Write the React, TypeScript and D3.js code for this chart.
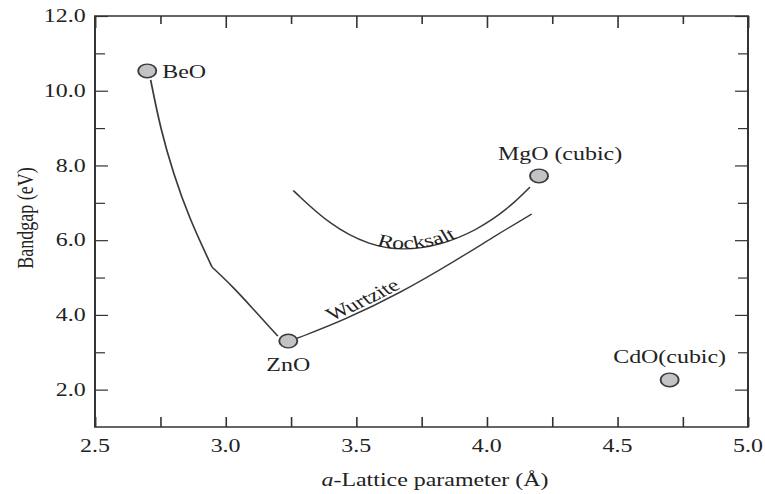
import { useEffect, useRef } from 'react';
import * as d3 from 'd3';

// the original figure is stretched horizontally, so draw in a narrower box and stretch it
const stretch = 1.33;
const outerW = 765;
const outerH = 494;
const innerW = outerW / stretch;

const xTicks = [2.5, 3.0, 3.5, 4.0, 4.5, 5.0];
const xMinorTicks = [2.75, 3.25, 3.75, 4.25, 4.75];
const yTicks = [2, 4, 6, 8, 10, 12];
const yMinorTicks = [3, 5, 7, 9, 11];

const compounds = ['BeO', 'ZnO', 'MgO (cubic)', 'CdO(cubic)'];
const latticeA = [2.70, 3.24, 4.20, 4.70];
const bandgap = [10.53, 3.30, 7.72, 2.26];

const wurtziteUpper: [number, number][] = [
    [2.713, 10.29], [2.75, 9.0], [2.80, 7.78], [2.86, 6.6], [2.948, 5.28],
];
const wurtziteLower: [number, number][] = [
    [2.948, 5.28], [3.03, 4.74], [3.10, 4.20], [3.20, 3.43],
];
const wurtziteRight: [number, number][] = [
    [3.272, 3.37], [3.45, 3.85], [3.67, 4.59], [3.88, 5.45], [4.04, 6.15], [4.172, 6.70],
];
const rocksalt: [number, number][] = [
    [3.259, 7.33], [3.40, 6.40], [3.55, 5.86], [3.68, 5.72], [3.82, 5.86],
    [3.96, 6.26], [4.08, 6.83], [4.165, 7.42],
];

const App = () => {
    const svgRef = useRef<SVGSVGElement>(null);
    const margins = { top: 16, right: outerW - 748, bottom: outerH - 427, left: 95 };

    useEffect(() => {
        const svg = d3.select(svgRef.current);
        svg.selectAll('*').remove();

        const left = margins.left / stretch;
        const right = (outerW - margins.right) / stretch;
        const top = margins.top;
        const bottom = outerH - margins.bottom;

        const xScale = d3.scaleLinear().domain([2.5, 5.0]).range([left, right]);
        const yScale = d3.scaleLinear().domain([1, 12]).range([bottom, top]);

        const ink = '#333';
        const font = "'Liberation Serif', 'Times New Roman', serif";

        // axes, ticks pointing inward
        const fmt = (d: any) => d3.format('.1f')(d);
        const ax = (g: any) => g.call((s: any) => s.select('.domain').remove());

        svg.append('g')
            .attr('transform', `translate(0,${bottom})`)
            .call(d3.axisBottom(xScale).tickValues([...xTicks, ...xMinorTicks]).tickSizeInner(-10).tickSizeOuter(0).tickFormat(() => ''))
            .call(ax);
        svg.append('g')
            .attr('transform', `translate(0,${top})`)
            .call(d3.axisTop(xScale).tickValues(xTicks).tickSizeInner(-12).tickSizeOuter(0).tickFormat(() => ''))
            .call(ax);
        svg.append('g')
            .attr('transform', `translate(0,${top})`)
            .call(d3.axisTop(xScale).tickValues(xMinorTicks).tickSizeInner(-8).tickSizeOuter(0).tickFormat(() => ''))
            .call(ax);
        svg.append('g')
            .attr('transform', `translate(${left},0)`)
            .call(d3.axisLeft(yScale).tickValues(yTicks).tickSizeInner(-13 / stretch).tickSizeOuter(0).tickFormat(() => ''))
            .call(ax);
        svg.append('g')
            .attr('transform', `translate(${left},0)`)
            .call(d3.axisLeft(yScale).tickValues(yMinorTicks).tickSizeInner(-10 / stretch).tickSizeOuter(0).tickFormat(() => ''))
            .call(ax);
        svg.append('g')
            .attr('transform', `translate(${right},0)`)
            .call(d3.axisRight(yScale).tickValues(yTicks).tickSizeInner(-13 / stretch).tickSizeOuter(0).tickFormat(() => ''))
            .call(ax);
        svg.append('g')
            .attr('transform', `translate(${right},0)`)
            .call(d3.axisRight(yScale).tickValues(yMinorTicks).tickSizeInner(-10 / stretch).tickSizeOuter(0).tickFormat(() => ''))
            .call(ax);
        svg.selectAll('.tick line').attr('stroke', ink).attr('stroke-width', 1.2);

        svg.append('rect')
            .attr('x', left)
            .attr('y', top)
            .attr('width', right - left)
            .attr('height', bottom - top)
            .attr('fill', 'none')
            .attr('stroke', ink)
            .attr('stroke-width', 1.5);

        // tick labels
        svg.append('g')
            .selectAll('text')
            .data(xTicks)
            .join('text')
            .attr('x', d => xScale(d))
            .attr('y', bottom + 25)
            .attr('text-anchor', 'middle')
            .style('font-family', font)
            .style('font-size', '18px')
            .attr('fill', '#222')
            .text(fmt);
        svg.append('g')
            .selectAll('text')
            .data(yTicks)
            .join('text')
            .attr('x', left - 7)
            .attr('y', d => yScale(d))
            .attr('dy', '0.35em')
            .attr('text-anchor', 'end')
            .style('font-family', font)
            .style('font-size', '18px')
            .attr('fill', '#222')
            .text(fmt);

        // axis titles
        const xTitle = svg.append('text')
            .attr('x', 435 / stretch)
            .attr('y', 486)
            .attr('text-anchor', 'middle')
            .style('font-family', font)
            .style('font-size', '18px')
            .attr('fill', '#222');
        xTitle.append('tspan').style('font-style', 'italic').text('a');
        xTitle.append('tspan').text('-Lattice parameter (Å)');

        svg.append('text')
            .attr('transform', `translate(${25 / stretch},218) rotate(-90)`)
            .attr('text-anchor', 'middle')
            .attr('dy', '0.35em')
            .style('font-family', font)
            .style('font-size', '18px')
            .attr('fill', '#222')
            .text('Bandgap (eV)');

        // curves
        const line = d3.line<[number, number]>()
            .x(d => xScale(d[0]))
            .y(d => yScale(d[1]))
            .curve(d3.curveBasis);

        const curves = [wurtziteUpper, wurtziteLower, wurtziteRight, rocksalt];
        const ids = ['wz-up', 'wz-low', 'wz-right', 'rocksalt'];
        svg.append('g')
            .selectAll('path')
            .data(curves)
            .join('path')
            .attr('id', (_, i) => ids[i])
            .attr('d', d => line(d))
            .attr('fill', 'none')
            .attr('stroke', '#3a3a3a')
            .attr('stroke-width', 1.3);

        // curve labels on the paths
        svg.append('text')
            .attr('dy', 0)
            .style('font-family', font)
            .style('font-size', '18px')
            .attr('fill', '#222')
            .append('textPath')
            .attr('href', '#rocksalt')
            .attr('startOffset', '52%')
            .attr('text-anchor', 'middle')
            .text('Rocksalt');

        svg.append('text')
            .attr('dy', -3)
            .style('font-family', font)
            .style('font-size', '18px')
            .attr('fill', '#222')
            .append('textPath')
            .attr('href', '#wz-right')
            .attr('startOffset', '29%')
            .attr('text-anchor', 'middle')
            .text('Wurtzite');

        // compound points
        const pts = compounds.map((c, i) => ({ name: c, a: latticeA[i], eg: bandgap[i] }));
        svg.append('g')
            .selectAll('circle')
            .data(pts)
            .join('circle')
            .attr('cx', d => xScale(d.a))
            .attr('cy', d => yScale(d.eg))
            .attr('r', 6.8)
            .attr('fill', '#c2c3c6')
            .attr('stroke', '#3a3a3a')
            .attr('stroke-width', 1.4);

        const labelDx = [15, 0, 21, 0];
        const labelDy = [7, 30, -16, -17];
        const anchors = ['start', 'middle', 'middle', 'middle'];
        svg.append('g')
            .selectAll('text')
            .data(pts)
            .join('text')
            .attr('x', (d, i) => xScale(d.a) + labelDx[i] / stretch)
            .attr('y', (d, i) => yScale(d.eg) + labelDy[i])
            .attr('text-anchor', (_, i) => anchors[i])
            .style('font-family', font)
            .style('font-size', '18px')
            .attr('fill', '#222')
            .text(d => d.name);
    }, []);

    return (
        <div style={{ position: 'absolute', left: 0, top: 0 }}>
            <svg
                ref={svgRef}
                width={outerW}
                height={outerH}
                viewBox={`0 0 ${innerW} ${outerH}`}
                preserveAspectRatio="none"
                style={{ display: 'block', background: '#fff' }}
            ></svg>
        </div>
    );
};

export default App;
